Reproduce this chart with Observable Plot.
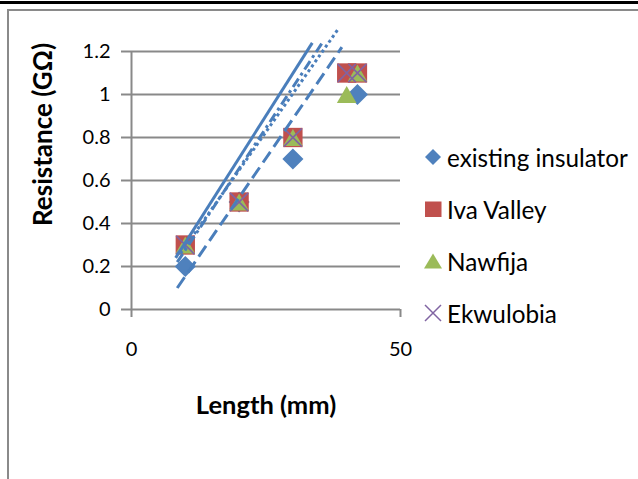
<!DOCTYPE html>
<html><head><meta charset="utf-8">
<script src="https://cdn.jsdelivr.net/npm/d3@7"></script>
<script src="https://cdn.jsdelivr.net/npm/@observablehq/plot@0.6"></script>
<style>
body{margin:0;background:#fff;font-family:Lato,"DejaVu Sans",sans-serif;}
#wrap{position:relative;width:638px;height:479px;overflow:hidden;background:#fff}
#chart{position:absolute;left:0;top:0}
#topline{position:absolute;left:0;top:1px;width:638px;height:3px;background:#000}
#frame{position:absolute;left:7px;top:9px;width:700px;height:600px;border-left:2px solid #8a8a8a;border-top:2px solid #8a8a8a}
#legend{position:absolute;left:423px;top:131px;font-size:24.3px;color:#000}
.row{height:52px;display:flex;align-items:center;white-space:nowrap}
.row svg{width:20px;height:20px;margin-right:4px;flex:none}
</style></head>
<body><div id="wrap"><div id="chart"></div><div id="topline"></div><div id="frame"></div><div id="legend"></div></div>
<script>
// ---- data ----
const seriesNames = ["existing insulator", "Iva Valley", "Nawfija", "Ekwulobia"];
const seriesColors = ["#4F81BD", "#C0504D", "#9BBB59", "#8064A2"];
const existingX = [10, 20, 30, 42];
const existingY = [0.2, 0.5, 0.7, 1.0];
const ivaX = [10, 20, 30, 40, 42];
const ivaY = [0.3, 0.5, 0.8, 1.1, 1.1];
const nawfijaX = [10, 20, 30, 40, 42];
const nawfijaY = [0.3, 0.5, 0.8, 1.0, 1.1];
const ekwuX = [10, 20, 30, 40, 42];
const ekwuY = [0.3, 0.5, 0.8, 1.1, 1.1];
// trendlines: start and end points
const trendSeries = ["existing insulator", "Iva Valley", "Nawfija", "Ekwulobia"];
const trendX1 = [8.5, 8.2, 8.5, 9.1];
const trendY1 = [0.10, 0.24, 0.22, 0.26];
const trendX2 = [39.1, 33.6, 35.7, 38.3];
const trendY2 = [1.22, 1.24, 1.25, 1.30];
const trendDash = ["13,6", null, "10,4,3,4", "3,3"];
const xTicks = [0, 50];
const yTicks = [0, 0.2, 0.4, 0.6, 0.8, 1, 1.2];
const xTitle = "Length (mm)";
const yTitle = "Resistance (GΩ)";

const pts = (xs, ys, s) => xs.map((x, i) => ({x, y: ys[i], s}));
const existing = pts(existingX, existingY, seriesNames[0]);
const iva = pts(ivaX, ivaY, seriesNames[1]);
const nawfija = pts(nawfijaX, nawfijaY, seriesNames[2]);
const ekwu = pts(ekwuX, ekwuY, seriesNames[3]);
const trends = trendSeries.map((s, i) => ({s, x1: trendX1[i], y1: trendY1[i], x2: trendX2[i], y2: trendY2[i], dash: trendDash[i]}));

const grey = "#898989";
const blueLine = "#4A7EBB";
const font = "Lato, sans-serif";

const marks = [
  Plot.gridY(yTicks, {stroke: grey, strokeOpacity: 1, strokeWidth: 2}),
  Plot.ruleX([0], {stroke: grey, strokeWidth: 2}),
  Plot.axisY(yTicks, {tickSize: 10, tickPadding: 11, stroke: grey, strokeWidth: 2, fill: "#000", fontSize: 20, label: null, tickFormat: d => String(d)}),
  Plot.axisX(xTicks, {tickSize: 8, tickPadding: 24, stroke: grey, strokeWidth: 2, fill: "#000", fontSize: 20, label: null, tickFormat: d => String(d)}),
  Plot.dot(existing, {x: "x", y: "y", symbol: "diamond2", r: 9.5, fill: seriesColors[0], stroke: "none"}),
  Plot.dot(iva, {x: "x", y: "y", symbol: "square", r: 10.9, fill: seriesColors[1], stroke: "none"}),
  Plot.dot(nawfija, {x: "x", y: "y", symbol: "triangle", r: 7.3, dy: 2.8, fill: seriesColors[2], stroke: "none"}),
  Plot.dot(ekwu, {x: "x", y: "y", symbol: "times", r: 8.3, stroke: seriesColors[3], strokeWidth: 1.6, fill: "none"}),
];
trends.forEach(t => {
  marks.push(Plot.link([t], {x1: "x1", y1: "y1", x2: "x2", y2: "y2", stroke: blueLine, strokeWidth: 3, strokeDasharray: t.dash || undefined}));
});
marks.push(
  Plot.text([yTitle], {frameAnchor: "left", textAnchor: "middle", dx: -88, dy: -46, rotate: -90, fontSize: 26, fontWeight: "bold", fill: "#000"}),
  Plot.text([xTitle], {frameAnchor: "bottom", textAnchor: "middle", dy: 104, fontSize: 25.5, fontWeight: "bold", fill: "#000"})
);

const chart = Plot.plot({
  width: 638, height: 479,
  marginLeft: 131, marginRight: 238, marginTop: 51, marginBottom: 170,
  x: {domain: [0, 50]},
  y: {domain: [0, 1.2]},
  style: {fontFamily: font, background: "transparent", overflow: "visible"},
  marks
});
document.getElementById("chart").appendChild(chart);

// legend
const legend = document.getElementById("legend");
const sym = [
  '<polygon points="10,2 18,10 10,18 2,10" fill="' + seriesColors[0] + '"/>',
  '<rect x="2" y="2.5" width="16.5" height="15.5" fill="' + seriesColors[1] + '"/>',
  '<polygon points="10,2.5 19,17.5 1,17.5" fill="' + seriesColors[2] + '"/>',
  '<path d="M2,2 L18,18 M2,18 L18,2" stroke="' + seriesColors[3] + '" stroke-width="1.5" fill="none"/>'
];
seriesNames.forEach((n, i) => {
  const row = document.createElement("div");
  row.className = "row";
  row.innerHTML = '<svg viewBox="0 0 20 20">' + sym[i] + '</svg><span>' + n + '</span>';
  legend.appendChild(row);
});
</script></body></html>
